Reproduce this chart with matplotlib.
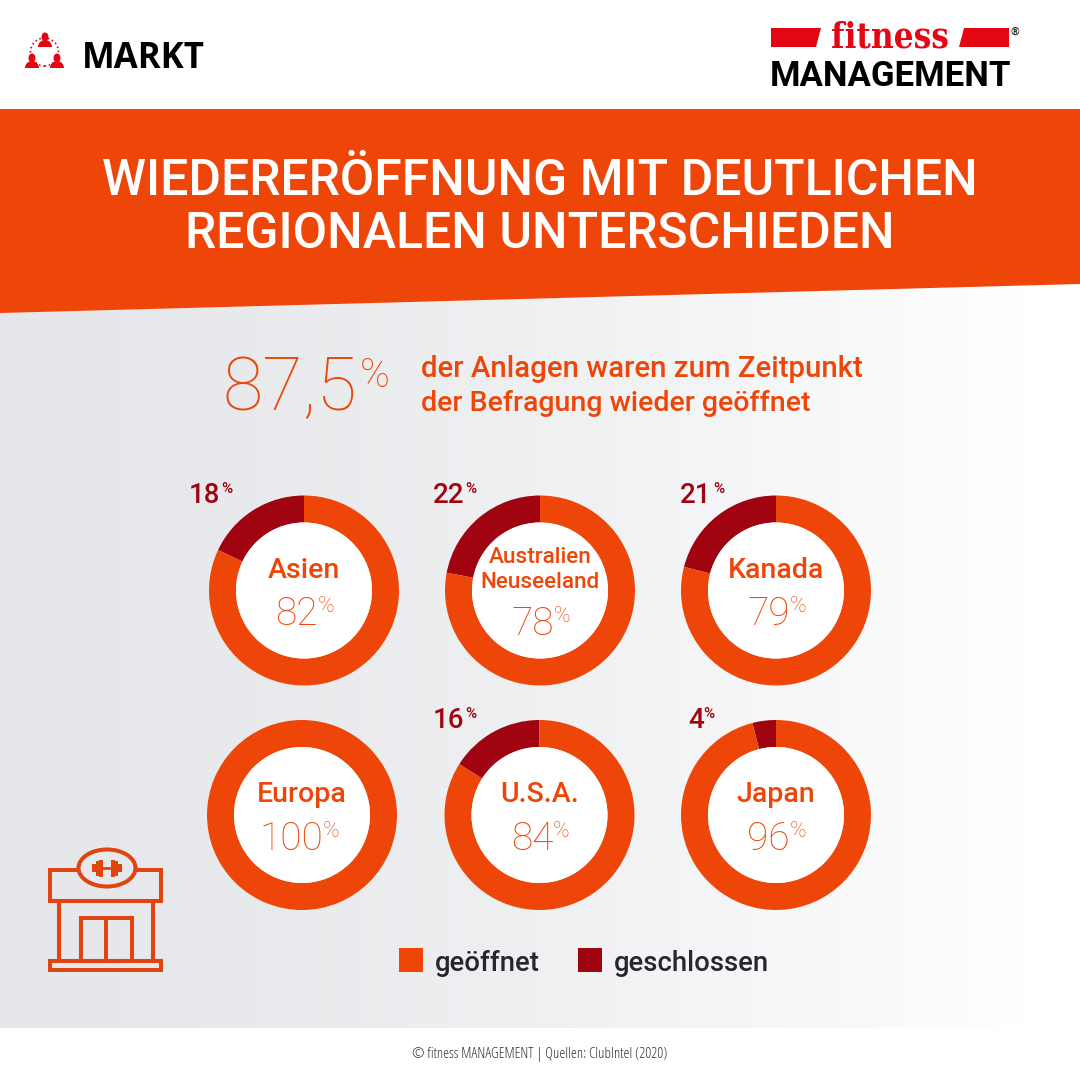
import numpy as np
import matplotlib
matplotlib.use('Agg')
import matplotlib.pyplot as plt
from matplotlib.patches import Polygon, Rectangle, Ellipse, Circle, Wedge

# chart values
regions = ['Asien', 'Australien\nNeuseeland', 'Kanada', 'Europa', 'U.S.A.', 'Japan']
open_pct = [82, 78, 79, 100, 84, 96]
closed_pct = [18, 22, 21, 0, 16, 4]
legend_labels = ['geöffnet', 'geschlossen']

title_lines = ['WIEDERERÖFFNUNG MIT DEUTLICHEN', 'REGIONALEN UNTERSCHIEDEN']
headline_value = '87,5'
headline_lines = ['der Anlagen waren zum Zeitpunkt', 'der Befragung wieder geöffnet']
source = '© fitness MANAGEMENT | Quellen: ClubIntel (2020)'

ORANGE = '#ee4609'
DARK = '#a00410'
RED = '#e30613'
FONT = 'Roboto'

plt.rcParams['font.family'] = [FONT, 'DejaVu Sans']

fig = plt.figure(figsize=(10.8, 10.8), dpi=100)
ax = fig.add_axes([0, 0, 1, 1])


def Y(y):
    return 1080 - y


# gradient background
grad = np.clip(np.linspace(0, 1, 256) / 0.95, 0, 1).reshape(1, -1) ** 1.5
c0 = np.array([229, 231, 234]) / 255
rgb = c0 + (1 - c0) * grad[..., None]
ax.imshow(rgb, extent=(0, 1080, Y(1028), Y(285)), aspect='auto', zorder=0)

# banner
ax.add_patch(Polygon([(0, Y(109)), (1080, Y(109)), (1080, Y(284)), (0, Y(313))], fc=ORANGE, ec='none', zorder=1))
ax.text(540, Y(195), title_lines[0], color='white', fontsize=36, fontweight='medium', ha='center', va='baseline', zorder=3)
ax.text(540, Y(248), title_lines[1], color='white', fontsize=36, fontweight='medium', ha='center', va='baseline', zorder=3)

# header left
ax.text(82, Y(68), 'MARKT', color='black', fontsize=25, fontweight='bold', family='Open Sans', ha='left', va='baseline', zorder=3)
ax.add_patch(Circle((44.5, Y(52)), 14, fc='none', ec=RED, lw=1.2, ls=(0, (1, 1.6)), zorder=2))
for px, py in [(45, 41), (32, 62), (57, 62)]:
    ax.add_patch(Ellipse((px, Y(py - 4)), 7, 9, fc=RED, ec='none', zorder=3))
    ax.add_patch(Wedge((px, Y(py + 6)), 7, 0, 180, fc=RED, ec='none', zorder=3))

# logo
ax.add_patch(Polygon([(771, Y(28)), (821, Y(28)), (816, Y(47)), (771, Y(47))], fc=RED, ec='none', zorder=3))
ax.add_patch(Polygon([(964, Y(28)), (1009, Y(28)), (1009, Y(47)), (959, Y(47))], fc=RED, ec='none', zorder=3))
ax.text(889.5, Y(47), 'fitness', color=RED, fontsize=25, fontweight='bold', family='DejaVu Serif', stretch='condensed', ha='center', va='baseline', zorder=3)
ax.text(890, Y(86), 'MANAGEMENT', color='black', fontsize=25, fontweight='bold', ha='center', va='baseline', zorder=3)
ax.text(1015, Y(32), '®', color='#222222', fontsize=8, fontweight='bold', ha='center', va='center', zorder=3)

# headline
ax.text(222, Y(410), headline_value, color=ORANGE, fontsize=53, fontweight=100, ha='left', va='baseline', zorder=3)
ax.text(360, Y(387), '%', color=ORANGE, fontsize=29, fontweight=100, ha='left', va='baseline', zorder=3)
ax.text(421, Y(377), headline_lines[0], color=ORANGE, fontsize=21.15, fontweight='medium', ha='left', va='baseline', zorder=3)
ax.text(421, Y(411), headline_lines[1], color=ORANGE, fontsize=20.5, fontweight='medium', ha='left', va='baseline', zorder=3)

# donuts
centers = [(304, 590.5), (540, 590.5), (776, 590.5), (302, 815), (539.5, 815), (776, 815)]
radius = 95
ring = 27
closed_num_x = [189, 433, 680, None, 433, 688]
closed_pct_x = [221, 465, 713, None, 465, 703]
for i, region in enumerate(regions):
    cx, cy = centers[i]
    wedges, _ = ax.pie([closed_pct[i], open_pct[i]], colors=[DARK, ORANGE], startangle=90,
                       center=(cx, Y(cy)), radius=radius, wedgeprops=dict(width=ring, linewidth=0))
    for w in wedges:
        w.set_zorder(2)
    ax.add_patch(Circle((cx, Y(cy)), radius - ring, fc='white', ec='none', zorder=2))
    if '\n' in region:
        a, b = region.split('\n')
        ax.text(cx, Y(cy - 27.5), a, color=ORANGE, fontsize=16.2, fontweight='medium', ha='center', va='baseline', zorder=3)
        ax.text(cx, Y(cy - 2.5), b, color=ORANGE, fontsize=16.2, fontweight='medium', ha='center', va='baseline', zorder=3)
        val_y = cy + 44.5
    else:
        ax.text(cx, Y(cy - 12.5), region, color=ORANGE, fontsize=20.5, fontweight='medium', ha='center', va='baseline', zorder=3)
        val_y = cy + 34.5
    s = str(open_pct[i])
    off = 14 if len(s) == 2 else 21
    ax.text(cx + off, Y(val_y), s, color=ORANGE, fontsize=28, fontweight=100, ha='right', va='baseline', zorder=3)
    ax.text(cx + off - 0.5, Y(val_y - 12.5), '%', color=ORANGE, fontsize=16, fontweight=100, ha='left', va='baseline', zorder=3)
    if closed_pct[i] > 0:
        ax.text(closed_num_x[i], Y(cy - 87.5), str(closed_pct[i]), color=DARK, fontsize=20, fontweight='medium', ha='left', va='baseline', zorder=3)
        ax.text(closed_pct_x[i], Y(cy - 97.5), '%', color=DARK, fontsize=11, fontweight='medium', ha='left', va='baseline', zorder=3)

# legend
ax.add_patch(Rectangle((399, Y(972)), 24, 24, fc=ORANGE, ec='none', zorder=3))
ax.add_patch(Rectangle((578, Y(972)), 24, 24, fc=DARK, ec='none', zorder=3))
ax.text(435, Y(971), legend_labels[0], color='#26262c', fontsize=19.8, fontweight='medium', ha='left', va='baseline', zorder=3)
ax.text(614, Y(971), legend_labels[1], color='#26262c', fontsize=19.8, fontweight='medium', ha='left', va='baseline', zorder=3)

# shop icon
IC = '#e0450f'
lw = 2.9
ax.add_patch(Rectangle((50, Y(901)), 111, 31, fc='none', ec=IC, lw=lw, zorder=3))
ax.add_patch(Rectangle((50, Y(970)), 111, 9, fc='none', ec=IC, lw=lw, zorder=3))
ax.plot([59, 59], [Y(903), Y(961)], color=IC, lw=lw, zorder=3)
ax.plot([153, 153], [Y(903), Y(961)], color=IC, lw=lw, zorder=3)
ax.add_patch(Rectangle((81, Y(961)), 51, 43, fc='none', ec=IC, lw=lw, zorder=3))
ax.plot([106, 106], [Y(918), Y(961)], color=IC, lw=lw, zorder=3)
ax.add_patch(Ellipse((107, Y(868)), 57, 37, fc=rgb[0, 24], ec=IC, lw=lw, zorder=4))
ax.plot([98, 116], [Y(868), Y(868)], color=IC, lw=2, zorder=5)
for bx, h in [(94, 8), (98, 15), (101, 17), (113, 17), (116, 15), (120, 8)]:
    ax.add_patch(Rectangle((bx - 1.7, Y(868 + h / 2)), 3.4, h, fc=IC, ec='none', zorder=5))

# footer
ax.text(540, Y(1055), source, color='#333333', fontsize=10.8, ha='center', va='center', family='Open Sans', stretch='condensed', zorder=3)

ax.set_xlim(0, 1080)
ax.set_ylim(0, 1080)
ax.set_aspect('equal')
ax.axis('off')
fig.savefig('out.png', dpi=100, facecolor='white')
